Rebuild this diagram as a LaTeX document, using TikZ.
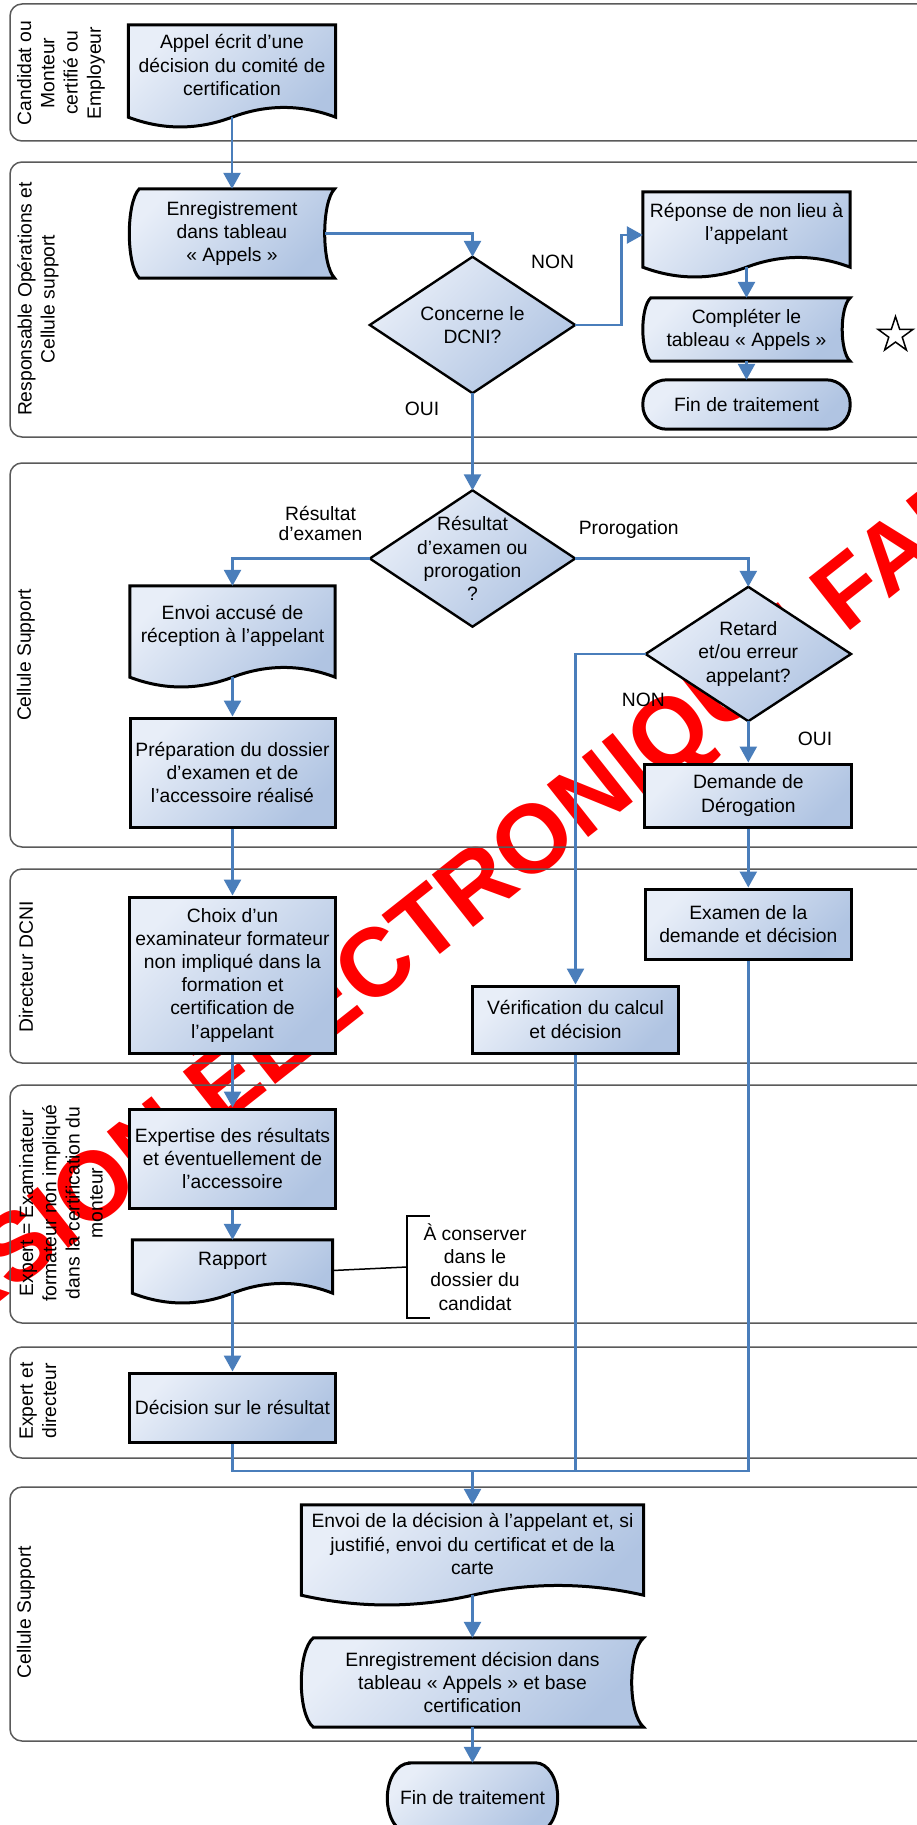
\documentclass[tikz,border=0pt]{standalone}
\usepackage{fontspec}
\setmainfont{Liberation Sans}
\usetikzlibrary{arrows.meta,calc,shapes.geometric}
\definecolor{bxl}{RGB}{232,238,248}
\definecolor{bxd}{RGB}{176,196,226}
\definecolor{conncol}{RGB}{74,126,187}
\definecolor{lanecol}{RGB}{90,90,90}
\definecolor{wmred}{RGB}{255,0,0}
\pgfdeclarelayer{wm}
\pgfdeclarelayer{shapes}
\pgfsetlayers{wm,shapes,main}
\newcommand\fsz{\fontsize{19.3}{23.2}\selectfont}
\tikzset{
 txt/.style={font=\fsz, align=center, inner sep=0pt},
 shp/.style={draw=black, line width=3pt, top color=bxl, bottom color=bxd, shading angle=45},
 dia/.style={draw=black, line width=2.4pt, top color=bxl, bottom color=bxd, shading angle=45},
 rbox/.style={txt, shp},
 conn/.style={draw=conncol, line width=2.6pt, -{Triangle[length=16pt,width=17pt]}},
 link/.style={draw=conncol, line width=2.6pt},
 lane/.style={draw=lanecol, line width=1.5pt, rounded corners=12pt},
 lanehead/.style={txt, rotate=90},
 starsym/.style={star, star points=5, star point ratio=2.618, draw=black, line width=1.5pt, minimum size=37pt, inner sep=0pt},
 wmtext/.style={text=wmred, font=\fontsize{97}{97}\selectfont\bfseries, rotate=38.3, anchor=base west, inner sep=0pt}
}
\newcommand\docshape[2]{%
 \path[shp] (#1.north west) -- (#1.north east) -- ($(#1.south east)+(0,12)$)
  .. controls +(-#2/6,-13) and +(#2/6,-13) .. ($(#1.south)+(0,12)$)
  .. controls +(-#2/6,13) and +(#2/6,13) .. ($(#1.south west)+(0,12)$) -- cycle;}
\newcommand\storedshape[3]{%
 \path[shp] ($(#1.north west)+(#2,0)$) -- (#1.north east)
  .. controls +(-4*#2/3,0.15*#3) and +(-4*#2/3,-0.15*#3) .. (#1.south east)
  -- ($(#1.south west)+(#2,0)$)
  .. controls +(-4*#2/3,-0.15*#3) and +(-4*#2/3,0.15*#3) .. ($(#1.north west)+(#2,0)$) -- cycle;}
\newcommand\diashape[1]{\path[dia] (#1.north) -- (#1.east) -- (#1.south) -- (#1.west) -- cycle;}
\begin{document}
\begin{tikzpicture}[x=1pt,y=-1pt]
\useasboundingbox (0,0) rectangle (917,1825);
\begin{pgfonlayer}{wm}
\fill[white] (0,0) rectangle (917,1825);
\node[wmtext] (wm) at (-144.4,1416) {VERSION ÉLECTRONIQUE FAISANT FOI};
\end{pgfonlayer}

% lanes
\draw[lane] (10,4) rectangle (945,141);
\draw[lane] (10,162) rectangle (945,437);
\draw[lane] (10,463) rectangle (945,847);
\draw[lane] (10,869) rectangle (945,1063);
\draw[lane] (10,1085) rectangle (945,1323);
\draw[lane] (10,1347) rectangle (945,1458);
\draw[lane] (10,1487) rectangle (945,1741);

\node[lanehead] (h1) at (61,73) {Candidat ou\\Monteur\\certifié ou\\Employeur};
\node[lanehead] (h2) at (38,299) {Responsable Opérations et\\Cellule support};
\node[lanehead] (h3) at (26,655) {Cellule Support};
\node[lanehead] (h4) at (26,967) {Directeur DCNI};
\node[lanehead] (h5) at (61,1203) {Expert = Examinateur\\formateur non impliqué\\dans la certification du\\monteur};
\node[lanehead] (h6) at (38,1401) {Expert et\\directeur};
\node[lanehead] (h7) at (26,1612) {Cellule Support};

% nodes
\node[txt, minimum width=207pt, minimum height=80pt] (n1) at (232,65) {Appel écrit d’une\\décision du comité de\\certification};
\node[txt, minimum width=205pt, minimum height=89pt] (n2) at (232,233.5) {Enregistrement\\dans tableau\\« Appels »};
\node[txt, minimum width=205pt, minimum height=136pt] (n3) at (472.5,325) {Concerne le\\DCNI?};
\node[txt, minimum width=207pt, minimum height=63pt] (n4) at (746.5,223.5) {Réponse de non lieu à\\l’appelant};
\node[txt, minimum width=207pt, minimum height=63pt] (n5) at (746.5,329.5) {Compléter le\\tableau « Appels »};
\node[txt, minimum width=207pt, minimum height=49pt] (n6) at (746.5,404.5) {Fin de traitement};
\node[starsym] (star) at (895.5,335) {};
\node[txt, minimum width=205pt, minimum height=136pt] (n7) at (472.5,558.5) {Résultat\\d’examen ou\\prorogation\\?};
\node[txt, minimum width=205pt, minimum height=79pt] (n8) at (232.5,625.5) {Envoi accusé de\\réception à l’appelant};
\node[txt, minimum width=205pt, minimum height=134pt] (n9) at (748.3,654) {Retard\\et/ou erreur\\appelant?};
\node[rbox, minimum width=205pt, minimum height=109pt] (n10) at (232.5,772.5) {Préparation du dossier\\d’examen et de\\l’accessoire réalisé};
\node[rbox, minimum width=207pt, minimum height=63pt] (n11) at (748.3,795.5) {Demande de\\Dérogation};
\node[rbox, minimum width=206pt, minimum height=156pt] (n12) at (232.5,975) {Choix d’un\\examinateur formateur\\non impliqué dans la\\formation et\\certification de\\l’appelant};
\node[rbox, minimum width=206pt, minimum height=70pt] (n13) at (748.3,924) {Examen de la\\demande et décision};
\node[rbox, minimum width=206pt, minimum height=67pt] (n14) at (575.5,1019.5) {Vérification du calcul\\et décision};
\node[rbox, minimum width=206pt, minimum height=99pt] (n15) at (232.5,1158.5) {Expertise des résultats\\et éventuellement de\\l’accessoire};
\node[txt, minimum width=200pt, minimum height=41pt] (n16) at (232.5,1260.5) {Rapport};
\node[txt, minimum width=136pt, minimum height=102pt] (ann) at (475,1267) {À conserver\\dans le\\dossier du\\candidat};
\node[rbox, minimum width=206pt, minimum height=69pt] (n17) at (232.5,1407.5) {Décision sur le résultat};
\coordinate (m) at (472.5,1471);
\node[txt, minimum width=342pt, minimum height=78pt] (n18) at (472.5,1544) {Envoi de la décision à l’appelant et, si\\justifié, envoi du certificat et de la\\carte};
\node[txt, minimum width=342pt, minimum height=89pt] (n19) at (472.5,1682.5) {Enregistrement décision dans\\tableau « Appels » et base\\certification};
\node[txt, minimum width=170pt, minimum height=70pt] (n20) at (472.5,1798) {Fin de traitement};

% labels
\node[txt] (lnon1) at (552.6,261.7) {NON};
\node[txt] (loui1) at (422,409) {OUI};
\node[txt, font=\fontsize{19.3}{20}\selectfont] (lres) at (320.5,523.3) {Résultat\\d’examen};
\node[txt] (lpro) at (628.7,530) {Prorogation};
\node[txt] (lnon2) at (643.3,700) {NON};
\node[txt] (loui2) at (815,739.3) {OUI};

% shapes
\begin{pgfonlayer}{shapes}
\docshape{n1}{207}
\storedshape{n2}{10}{89}
\diashape{n3}
\docshape{n4}{207}
\storedshape{n5}{8}{63}
\path[shp, rounded corners=24pt] (n6.north west) rectangle (n6.south east);
\diashape{n7}
\docshape{n8}{205}
\diashape{n9}
\docshape{n16}{200}
\docshape{n18}{342}
\storedshape{n19}{12}{89}
\path[shp] ($(n20.north west)+(22,0)$) -- ($(n20.north east)+(-22,0)$)
  arc[start angle=90,end angle=-90,x radius=22pt,y radius=35pt]
  -- ($(n20.south west)+(22,0)$)
  arc[start angle=270,end angle=90,x radius=22pt,y radius=35pt] -- cycle;
\end{pgfonlayer}

% connectors
\draw[conn] ($(n1.south)+(0,12)$) -- (n2.north);
\draw[conn] ($(n2.east)+(-10,0)$) -| (n3.north);
\draw[conn] (n3.east) -- ++(46.5,0) |- ($(n4.west)+(0,11.5)$);
\draw[conn] ($(n4.south)+(0,12)$) -- (n5.north);
\draw[conn] (n5.south) -- (n6.north);
\draw[conn] (n3.south) -- (n7.north);
\draw[conn] (n7.west) -| (n8.north);
\draw[conn] (n7.east) -| (n9.north);
\draw[conn] ($(n8.south)+(0,12)$) -- (n10.north);
\draw[conn] (n9.west) -| (n14.north);
\draw[conn] (n9.south) -- (n11.north);
\draw[conn] (n10.south) -- (n12.north);
\draw[conn] (n11.south) -- (n13.north);
\draw[conn] (n12.south) -- (n15.north);
\draw[conn] (n15.south) -- (n16.north);
\draw[conn] ($(n16.south)+(0,12)$) -- (n17.north);
\draw[link] (n17.south) |- (m);
\draw[link] (n14.south) |- (m);
\draw[link] (n13.south) |- (m);
\draw[conn] (m) -- (n18.north);
\draw[conn] ($(n18.south)+(0,12)$) -- (n19.north);
\draw[conn] (n19.south) -- (n20.north);

% annotation
\draw[line width=1.5pt] ($(n16.east)+(0,10)$) -- (ann.west);
\draw[line width=1.5pt] ($(ann.north west)+(23,0)$) -- (ann.north west) -- (ann.south west) -- ($(ann.south west)+(23,0)$);
\end{tikzpicture}
\end{document}
